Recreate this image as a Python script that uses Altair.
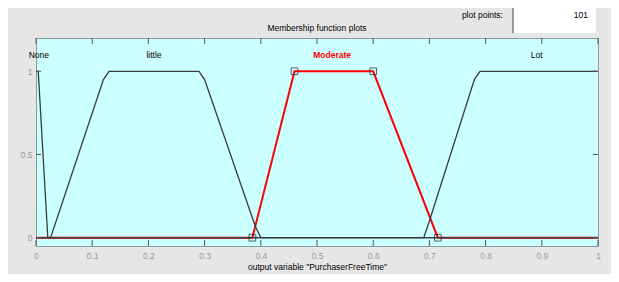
import altair as alt
import pandas as pd

# Membership function vertices
none_x = [0, 0.004, 0.021, 0.028, 1]
none_y = [1, 1, 0, 0, 0]
little_x = [0, 0.026, 0.12, 0.13, 0.29, 0.30, 0.39, 0.40, 1]
little_y = [0, 0, 0.95, 1, 1, 0.95, 0.07, 0, 0]
moderate_x = [0, 0.385, 0.46, 0.60, 0.715, 1]
moderate_y = [0, 0, 1, 1, 0, 0]
lot_x = [0, 0.69, 0.70, 0.78, 0.79, 1]
lot_y = [0, 0, 0.1, 0.95, 1, 1]

mf_names = ["None", "little", "Moderate", "Lot"]
label_x = [0.005, 0.21, 0.527, 0.891]
label_y = [1.1, 1.1, 1.1, 1.1]

vertex_x = [0.385, 0.46, 0.60, 0.715]
vertex_y = [0, 1, 1, 0]

x_ticks = [0, 0.1, 0.2, 0.3, 0.4, 0.5, 0.6, 0.7, 0.8, 0.9, 1]
y_ticks = [0, 0.5, 1]

FONT = "Liberation Sans"

black_rows = []
for name, xs_, ys_ in [("None", none_x, none_y), ("little", little_x, little_y), ("Lot", lot_x, lot_y)]:
    for i, (a, b) in enumerate(zip(xs_, ys_)):
        black_rows.append({"mf": name, "x": a, "y": b, "o": i})
black_df = pd.DataFrame(black_rows)
red_df = pd.DataFrame({"x": moderate_x, "y": moderate_y, "o": list(range(len(moderate_x)))})
lab_df = pd.DataFrame({"name": mf_names, "x": label_x, "y": label_y})
vert_df = pd.DataFrame({"x": vertex_x, "y": vertex_y})
xt_df = pd.DataFrame({"x": x_ticks})
yt_df = pd.DataFrame({"y": y_ticks})

xs = alt.Scale(domain=[0, 1], nice=False, zero=False)
ys = alt.Scale(domain=[-0.05, 1.2], nice=False, zero=False)

xaxis = alt.Axis(values=x_ticks, format=".1~f", domain=False, ticks=False, grid=False, labelFlush=False,
                 labelColor="#9a9a9a", labelFontSize=8.5, labelFont=FONT, labelPadding=5,
                 title='output variable "PurchaserFreeTime"', titleFont=FONT, titleFontSize=8.5,
                 titleFontWeight="normal", titleColor="#000000", titlePadding=3)
yaxis = alt.Axis(values=y_ticks, format=".1~f", domain=False, ticks=False, grid=False, labelFlush=False,
                 labelColor="#9a9a9a", labelFontSize=8.5, labelFont=FONT, labelPadding=4, title=None)

red = alt.Chart(red_df).mark_line(color="#ff0000", strokeWidth=2).encode(
    x=alt.X("x:Q", scale=xs, axis=xaxis),
    y=alt.Y("y:Q", scale=ys, axis=yaxis),
    order="o:Q",
)
black = alt.Chart(black_df).mark_line(color="#3a3a3a", strokeWidth=1.3).encode(
    x=alt.X("x:Q", scale=xs),
    y=alt.Y("y:Q", scale=ys),
    detail="mf:N",
    order="o:Q",
)
squares = alt.Chart(vert_df).mark_square(filled=False, color="#222222", size=45, strokeWidth=1).encode(
    x="x:Q", y="y:Q"
)
labels_plain = alt.Chart(lab_df).transform_filter(alt.datum.name != "Moderate").mark_text(
    font=FONT, fontSize=8.5, baseline="middle", color="#000000").encode(
    x="x:Q", y="y:Q", text="name:N")
labels_sel = alt.Chart(lab_df).transform_filter(alt.datum.name == "Moderate").mark_text(
    font=FONT, fontSize=8.5, baseline="middle", color="#ff0000", fontWeight="bold").encode(
    x="x:Q", y="y:Q", text="name:N")

tick_color = "#555555"
xt_bottom = alt.Chart(xt_df).mark_rule(color=tick_color).encode(x="x:Q", y=alt.value(208), y2=alt.value(202))
xt_top = alt.Chart(xt_df).mark_rule(color=tick_color).encode(x="x:Q", y=alt.value(0), y2=alt.value(6))
yt_left = alt.Chart(yt_df).mark_rule(color=tick_color).encode(y="y:Q", x=alt.value(0), x2=alt.value(5))
yt_right = alt.Chart(yt_df).mark_rule(color=tick_color).encode(y="y:Q", x=alt.value(557), x2=alt.value(562))

title_df = pd.DataFrame({"t": ["Membership function plots"]})
title = alt.Chart(title_df).mark_text(font=FONT, fontSize=8.5, baseline="middle", align="center", color="#000000").encode(
    x=alt.value(281), y=alt.value(-10), text="t:N")

pp_df = pd.DataFrame({"t": ["plot points:"]})
pp_text = alt.Chart(pp_df).mark_text(font=FONT, fontSize=8.5, baseline="middle", align="right", color="#000000").encode(
    x=alt.value(467), y=alt.value(-23), text="t:N")
box = alt.Chart(pp_df).mark_rect(fill="#ffffff").encode(
    x=alt.value(477), x2=alt.value(560), y=alt.value(-31), y2=alt.value(-5))
box_top = alt.Chart(pp_df).mark_rule(color="#7a7a7a", strokeWidth=1.5).encode(
    x=alt.value(477), x2=alt.value(560), y=alt.value(-31))
box_left = alt.Chart(pp_df).mark_rule(color="#7a7a7a", strokeWidth=1.5).encode(
    x=alt.value(477), y=alt.value(-31), y2=alt.value(-5))
n_df = pd.DataFrame({"t": ["101"]})
n_text = alt.Chart(n_df).mark_text(font=FONT, fontSize=8.5, baseline="middle", align="right", color="#000000").encode(
    x=alt.value(552), y=alt.value(-23), text="t:N")

chart = alt.layer(
    red, black, xt_bottom, xt_top, yt_left, yt_right, squares, labels_plain, labels_sel,
    title, box, box_top, box_left, pp_text, n_text,
).properties(
    width=562, height=208,
    autosize=alt.AutoSizeParams(type="none"),
    padding={"left": 28, "top": 30, "right": 13, "bottom": 28},
    background="#e6e6e6",
).configure_view(fill="#ccffff", stroke="#8c9c9c", strokeWidth=1)

chart.save("out.html", embed_options={"renderer": "svg", "actions": False})
